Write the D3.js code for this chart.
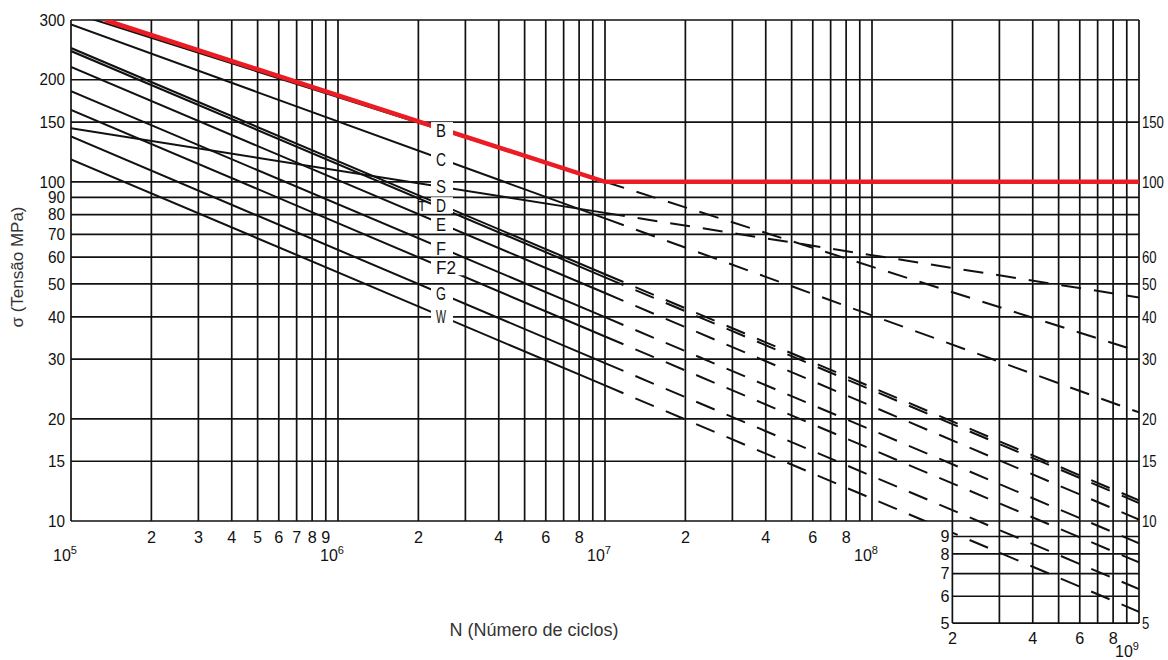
<!DOCTYPE html>
<html>
<head>
<meta charset="utf-8">
<script src="https://cdn.jsdelivr.net/npm/d3@7"></script>
<style>
  body { margin: 0; background: #fff; }
  text { fill: #111; }
  .num { font-family: "Liberation Sans", Arial, sans-serif; font-size: 16px; }
  .title { font-family: "Liberation Sans", Arial, sans-serif; font-size: 17px; fill: #333; }
</style>
</head>
<body>
<div id="chart"></div>
<script>
// curve classes and stress (MPa) at N = 1e5, 1e7, 1e9
var curveNames  = ["B", "C", "S", "T", "D", "E", "F", "F2", "G", "W"];
var stressAt1e5 = [316, 291, 144, 243, 248, 218, 185, 163, 136, 116.5];
var stressAt1e7 = [100, 78, 81, 52.3, 53.4, 47, 39.9, 35, 29.2, 25.1];
var stressAt1e9 = [31.6, 20.9, 45.6, 11.3, 11.5, 10.1, 8.6, 7.55, 6.3, 5.4];

// red design line
var redCycles = [1.34e5, 1e7, 1e9];
var redStress = [300, 100, 100];

// ticks
var mainStressTicks = [10, 15, 20, 30, 40, 50, 60, 70, 80, 90, 100, 150, 200, 300];
var extStressTicks = [5, 6, 7, 8, 9];
var leftLabels = [300, 200, 150, 100, 90, 80, 70, 60, 50, 40, 30, 20, 15, 10];
var rightLabels = [150, 100, 60, 50, 40, 30, 20, 15, 10, 5];
var extLabels = [9, 8, 7, 6, 5];
var mainCycleTicks = [2e5, 3e5, 4e5, 5e5, 6e5, 7e5, 8e5, 9e5, 2e6, 4e6, 6e6, 8e6, 2e7, 4e7, 6e7, 8e7];
var extCycleTicks = [2e8, 4e8, 6e8, 8e8];
var decadeExponents = [5, 6, 7, 8, 9];

var width = 1168, height = 660;

var svg = d3.select("#chart")
  .append("svg")
  .attr("width", width)
  .attr("height", height);

var x = d3.scaleLog().domain([1e5, 1e9]).range([71, 1139]);
var y = d3.scaleLog().domain([10, 300]).range([521, 20]);

// squeeze digits so they look like the narrow lettering of the scan
function narrow(sel, per) {
  sel.attr("textLength", function() { return this.textContent.length * per; })
    .attr("lengthAdjust", "spacingAndGlyphs");
}

// plot area = main box plus the small extension down to 5 MPa
var clip = svg.append("defs").append("clipPath").attr("id", "plotClip");
clip.append("rect")
  .attr("x", x(1e5)).attr("y", y(300))
  .attr("width", x(1e9) - x(1e5)).attr("height", y(10) - y(300));
clip.append("rect")
  .attr("x", x(2e8)).attr("y", y(10))
  .attr("width", x(1e9) - x(2e8)).attr("height", y(5) - y(10));

// grid
var grid = svg.append("g")
  .attr("stroke", "#111")
  .attr("stroke-width", 1.7)
  .attr("fill", "none");

var gridCycles = [];
[5, 6, 7, 8].forEach(function(d) {
  for (var k = 1; k <= 9; k++) gridCycles.push(k * Math.pow(10, d));
});
gridCycles.push(1e9);

grid.selectAll(".vgrid")
  .data(gridCycles)
  .enter().append("line")
  .attr("x1", function(d) { return x(d); })
  .attr("x2", function(d) { return x(d); })
  .attr("y1", y(300))
  .attr("y2", function(d) { return d >= 1.99e8 ? y(5) : y(10); });

grid.selectAll(".hgrid")
  .data(mainStressTicks)
  .enter().append("line")
  .attr("x1", x(1e5))
  .attr("x2", x(1e9))
  .attr("y1", function(d) { return y(d); })
  .attr("y2", function(d) { return y(d); });

grid.selectAll(".hgridExt")
  .data(extStressTicks)
  .enter().append("line")
  .attr("x1", x(2e8))
  .attr("x2", x(1e9))
  .attr("y1", function(d) { return y(d); })
  .attr("y2", function(d) { return y(d); });

// curves
var curves = svg.append("g").attr("clip-path", "url(#plotClip)");
var line = d3.line()
  .x(function(d) { return x(d[0]); })
  .y(function(d) { return y(d[1]); });

curveNames.forEach(function(name, i) {
  curves.append("path")
    .attr("d", line([[1e5, stressAt1e5[i]], [1e7, stressAt1e7[i]]]))
    .attr("fill", "none")
    .attr("stroke", "#111")
    .attr("stroke-width", 2);
  curves.append("path")
    .attr("d", line([[1e7, stressAt1e7[i]], [1e9, stressAt1e9[i]]]))
    .attr("fill", "none")
    .attr("stroke", "#111")
    .attr("stroke-width", 2)
    .attr("stroke-dasharray", "20,13");
});

curves.append("path")
  .attr("d", line(redCycles.map(function(n, i) { return [n, redStress[i]]; })))
  .attr("fill", "none")
  .attr("stroke", "#ec1c24")
  .attr("stroke-width", 4.5);

// curve labels, sitting on the lines around N ~ 2.5e6
var labelX = 436;
var labels = svg.append("g").attr("class", "num");
curveNames.forEach(function(name, i) {
  var x0 = x(1e5), x1 = x(1e7);
  var y0 = y(stressAt1e5[i]), y1 = y(stressAt1e7[i]);
  var lx = name === "T" ? 418 : labelX;
  var t = (lx + 6 - x0) / (x1 - x0);
  var ly = y0 + t * (y1 - y0);
  if (name === "T") ly += 5;
  var txt = labels.append("text")
    .attr("x", lx)
    .attr("y", ly)
    .attr("dy", "0.36em")
    .style("font-size", name === "T" ? "15px" : "18px")
    .text(name);
  narrow(txt, name === "T" ? 8 : 10);
  if (name !== "T") {
    labels.insert("rect", "text")
      .attr("x", lx - 5)
      .attr("y", ly - 8)
      .attr("width", name.length * 10 + 12)
      .attr("height", 16)
      .attr("fill", "#fff");
  }
});

// stress labels
var axisText = svg.append("g").attr("class", "num");
axisText.selectAll(".ly")
  .data(leftLabels)
  .enter().append("text")
  .attr("x", 65)
  .attr("y", function(d) { return y(d); })
  .attr("dy", "0.36em")
  .attr("text-anchor", "end")
  .text(function(d) { return d; })
  .call(narrow, 8.5);

axisText.selectAll(".ry")
  .data(rightLabels)
  .enter().append("text")
  .attr("x", 1142)
  .attr("y", function(d) { return y(d); })
  .attr("dy", "0.36em")
  .text(function(d) { return d; })
  .call(narrow, 7.3);

axisText.selectAll(".ey")
  .data(extLabels)
  .enter().append("text")
  .attr("x", x(2e8) - 3)
  .attr("y", function(d) { return y(d); })
  .attr("dy", "0.36em")
  .attr("text-anchor", "end")
  .text(function(d) { return d; })
  .call(narrow, 9);

// cycle labels
function leadDigit(n) {
  return Math.round(n / Math.pow(10, Math.floor(Math.log10(n) + 1e-9)));
}
axisText.selectAll(".mx")
  .data(mainCycleTicks)
  .enter().append("text")
  .attr("x", function(d) { return x(d); })
  .attr("y", y(10) + 22)
  .attr("text-anchor", "middle")
  .text(leadDigit)
  .call(narrow, 9);

axisText.selectAll(".ex")
  .data(extCycleTicks)
  .enter().append("text")
  .attr("x", function(d) { return x(d); })
  .attr("y", y(5) + 21)
  .attr("text-anchor", "middle")
  .text(leadDigit)
  .call(narrow, 9);

var dec = axisText.selectAll(".dx")
  .data(decadeExponents)
  .enter().append("text")
  .attr("x", function(d) { return d === 9 ? x(1e9) - 12 : x(Math.pow(10, d)) - 6; })
  .attr("y", function(d) { return d === 9 ? y(5) + 34 : y(10) + 40; })
  .attr("text-anchor", "middle");
dec.append("tspan").text("10");
dec.append("tspan")
  .attr("dy", -7)
  .style("font-size", "11px")
  .text(function(d) { return d; });

// axis titles
svg.append("text")
  .attr("class", "title")
  .attr("transform", "translate(23," + 267 + ") rotate(-90)")
  .attr("text-anchor", "middle")
  .text("σ (Tensão MPa)");

svg.append("text")
  .attr("class", "title")
  .attr("x", 534)
  .attr("y", 636)
  .attr("text-anchor", "middle")
  .style("font-size", "18px")
  .text("N (Número de ciclos)");
</script>
</body>
</html>
